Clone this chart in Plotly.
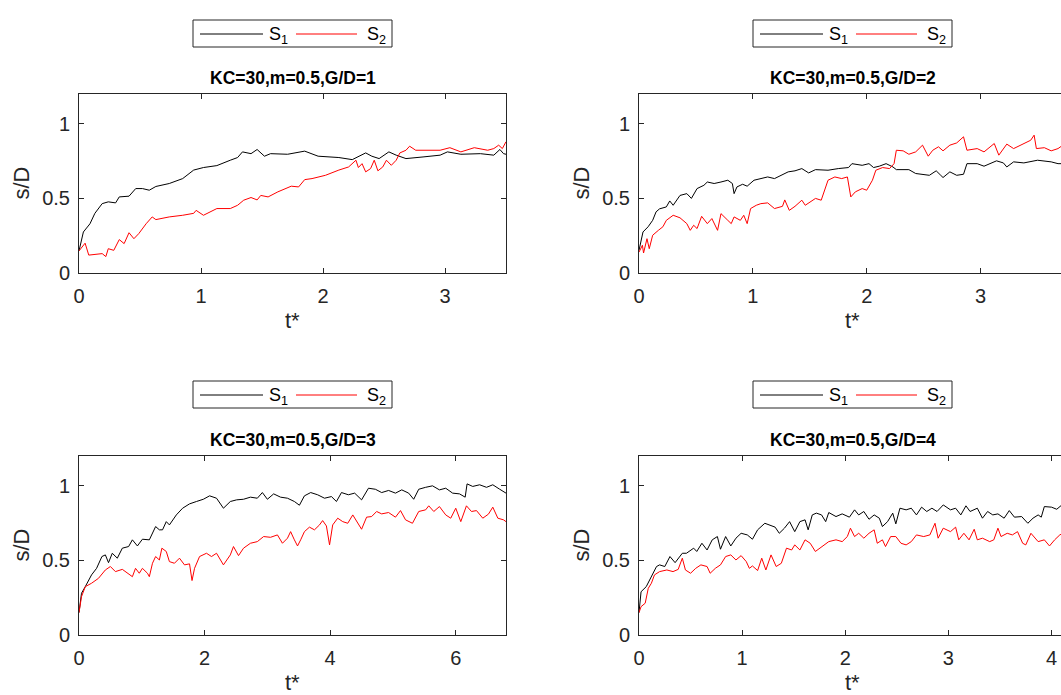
import plotly.graph_objects as go

W, H = 1061, 695

# ---------------- data ----------------
# Panel 1: KC=30, m=0.5, G/D=1
p1_t_s1 = [0, 0.036, 0.09, 0.13, 0.19, 0.24, 0.30, 0.33, 0.41, 0.465, 0.52, 0.576, 0.63, 0.74, 0.85, 0.94, 1.02, 1.13, 1.24, 1.30, 1.34, 1.41, 1.46, 1.52, 1.57, 1.71, 1.85, 1.96, 2.13, 2.24, 2.35, 2.40, 2.46, 2.54, 2.60, 2.68, 2.82, 2.96, 3.02, 3.13, 3.29, 3.40, 3.45, 3.48, 3.5]
p1_s1 = [0.148, 0.275, 0.33, 0.40, 0.465, 0.477, 0.47, 0.51, 0.515, 0.566, 0.566, 0.555, 0.58, 0.60, 0.633, 0.69, 0.707, 0.72, 0.756, 0.774, 0.812, 0.80, 0.828, 0.783, 0.80, 0.796, 0.817, 0.783, 0.774, 0.76, 0.805, 0.783, 0.767, 0.812, 0.79, 0.767, 0.778, 0.79, 0.812, 0.796, 0.80, 0.79, 0.828, 0.80, 0.796]
p1_t_s2 = [0, 0.05, 0.08, 0.13, 0.19, 0.22, 0.24, 0.285, 0.33, 0.37, 0.41, 0.45, 0.49, 0.55, 0.576, 0.60, 0.63, 0.74, 0.85, 0.94, 0.96, 1.02, 1.13, 1.24, 1.30, 1.35, 1.41, 1.46, 1.49, 1.55, 1.63, 1.74, 1.80, 1.85, 1.91, 2.02, 2.13, 2.21, 2.27, 2.29, 2.32, 2.35, 2.39, 2.42, 2.45, 2.49, 2.52, 2.56, 2.60, 2.63, 2.68, 2.71, 2.76, 2.96, 3.04, 3.13, 3.24, 3.35, 3.40, 3.44, 3.47, 3.5]
p1_s2 = [0.148, 0.20, 0.12, 0.125, 0.13, 0.11, 0.163, 0.152, 0.224, 0.197, 0.27, 0.23, 0.264, 0.33, 0.353, 0.376, 0.358, 0.376, 0.387, 0.40, 0.42, 0.387, 0.432, 0.432, 0.454, 0.488, 0.506, 0.49, 0.52, 0.51, 0.544, 0.582, 0.577, 0.626, 0.633, 0.655, 0.69, 0.711, 0.756, 0.707, 0.733, 0.678, 0.70, 0.756, 0.685, 0.711, 0.756, 0.722, 0.756, 0.805, 0.823, 0.85, 0.823, 0.823, 0.84, 0.812, 0.84, 0.823, 0.834, 0.857, 0.834, 0.88]

# Panel 2: KC=30, m=0.5, G/D=2
p2_t_s1 = [0, 0.035, 0.08, 0.12, 0.15, 0.18, 0.24, 0.27, 0.30, 0.36, 0.42, 0.46, 0.51, 0.57, 0.60, 0.66, 0.72, 0.78, 0.82, 0.835, 0.86, 0.91, 0.95, 1.01, 1.13, 1.19, 1.31, 1.37, 1.43, 1.49, 1.55, 1.66, 1.75, 1.84, 1.87, 1.96, 2.02, 2.06, 2.11, 2.17, 2.23, 2.26, 2.37, 2.43, 2.55, 2.61, 2.65, 2.67, 2.73, 2.79, 2.85, 2.88, 2.97, 3.03, 3.14, 3.20, 3.23, 3.29, 3.38, 3.50, 3.62, 3.68, 3.75]
p2_s1 = [0.152, 0.275, 0.31, 0.353, 0.41, 0.43, 0.443, 0.483, 0.454, 0.52, 0.532, 0.50, 0.566, 0.588, 0.61, 0.60, 0.61, 0.622, 0.60, 0.532, 0.577, 0.595, 0.582, 0.622, 0.644, 0.633, 0.678, 0.685, 0.70, 0.671, 0.693, 0.689, 0.70, 0.707, 0.733, 0.722, 0.733, 0.707, 0.716, 0.733, 0.711, 0.693, 0.693, 0.667, 0.655, 0.685, 0.655, 0.64, 0.678, 0.655, 0.662, 0.733, 0.733, 0.716, 0.752, 0.738, 0.711, 0.745, 0.738, 0.756, 0.745, 0.733, 0.733]
p2_t_s2 = [0, 0.03, 0.04, 0.07, 0.09, 0.12, 0.17, 0.21, 0.24, 0.30, 0.36, 0.42, 0.45, 0.48, 0.51, 0.55, 0.60, 0.64, 0.69, 0.72, 0.78, 0.81, 0.835, 0.89, 0.92, 0.95, 0.98, 1.03, 1.07, 1.13, 1.19, 1.26, 1.28, 1.32, 1.37, 1.43, 1.46, 1.55, 1.60, 1.66, 1.72, 1.78, 1.83, 1.86, 1.90, 1.96, 2.00, 2.05, 2.08, 2.14, 2.20, 2.24, 2.26, 2.32, 2.37, 2.43, 2.49, 2.54, 2.58, 2.63, 2.67, 2.73, 2.79, 2.85, 2.88, 2.97, 3.03, 3.12, 3.16, 3.23, 3.29, 3.38, 3.44, 3.47, 3.49, 3.56, 3.62, 3.68, 3.75]
p2_s2 = [0.14, 0.186, 0.134, 0.23, 0.163, 0.253, 0.286, 0.31, 0.353, 0.387, 0.37, 0.331, 0.286, 0.32, 0.298, 0.38, 0.331, 0.365, 0.286, 0.398, 0.353, 0.331, 0.376, 0.353, 0.387, 0.331, 0.432, 0.454, 0.465, 0.47, 0.432, 0.447, 0.49, 0.42, 0.447, 0.488, 0.454, 0.50, 0.488, 0.622, 0.644, 0.633, 0.644, 0.51, 0.544, 0.566, 0.555, 0.622, 0.689, 0.707, 0.70, 0.733, 0.823, 0.819, 0.796, 0.812, 0.857, 0.783, 0.823, 0.846, 0.819, 0.857, 0.872, 0.913, 0.823, 0.834, 0.812, 0.868, 0.79, 0.864, 0.834, 0.868, 0.89, 0.924, 0.834, 0.84, 0.819, 0.834, 0.872]

# Panel 3: KC=30, m=0.5, G/D=3
p3_t_s1 = [0, 0.04, 0.1, 0.15, 0.2, 0.28, 0.365, 0.42, 0.47, 0.53, 0.61, 0.69, 0.79, 0.85, 0.93, 1.01, 1.12, 1.22, 1.28, 1.33, 1.39, 1.44, 1.55, 1.65, 1.76, 1.87, 1.98, 2.08, 2.19, 2.30, 2.41, 2.51, 2.62, 2.73, 2.84, 2.92, 3.0, 3.10, 3.21, 3.32, 3.43, 3.51, 3.59, 3.69, 3.80, 3.91, 4.02, 4.10, 4.18, 4.29, 4.39, 4.50, 4.61, 4.72, 4.82, 4.93, 5.04, 5.14, 5.25, 5.33, 5.41, 5.52, 5.63, 5.74, 5.84, 5.95, 6.06, 6.15, 6.18, 6.27, 6.38, 6.49, 6.59, 6.70, 6.80]
p3_s1 = [0.15, 0.28, 0.324, 0.369, 0.403, 0.447, 0.526, 0.537, 0.485, 0.548, 0.515, 0.582, 0.593, 0.638, 0.597, 0.642, 0.638, 0.727, 0.705, 0.705, 0.76, 0.738, 0.805, 0.85, 0.879, 0.895, 0.91, 0.933, 0.917, 0.85, 0.895, 0.906, 0.91, 0.924, 0.917, 0.955, 0.91, 0.946, 0.924, 0.917, 0.895, 0.87, 0.933, 0.955, 0.94, 0.917, 0.928, 0.895, 0.955, 0.94, 0.951, 0.906, 0.984, 0.977, 0.955, 0.969, 0.951, 0.973, 0.951, 0.91, 0.977, 0.99, 1.0, 0.973, 0.984, 0.951, 0.946, 0.924, 1.013, 0.996, 1.007, 0.99, 1.007, 0.977, 0.951]
p3_t_s2 = [0, 0.04, 0.1, 0.2, 0.31, 0.42, 0.50, 0.58, 0.69, 0.79, 0.85, 0.90, 0.96, 1.01, 1.09, 1.12, 1.17, 1.22, 1.28, 1.32, 1.39, 1.44, 1.52, 1.60, 1.68, 1.76, 1.80, 1.84, 1.92, 2.03, 2.11, 2.19, 2.30, 2.41, 2.46, 2.54, 2.62, 2.73, 2.84, 2.94, 3.05, 3.16, 3.24, 3.32, 3.37, 3.43, 3.48, 3.53, 3.59, 3.67, 3.75, 3.83, 3.88, 3.94, 3.99, 4.04, 4.12, 4.20, 4.28, 4.36, 4.45, 4.50, 4.58, 4.66, 4.74, 4.82, 4.93, 5.04, 5.12, 5.20, 5.31, 5.41, 5.52, 5.57, 5.65, 5.74, 5.84, 5.92, 6.0, 6.08, 6.17, 6.25, 6.33, 6.43, 6.52, 6.59, 6.67, 6.76, 6.80]
p3_s2 = [0.15, 0.257, 0.324, 0.347, 0.38, 0.436, 0.459, 0.425, 0.44, 0.409, 0.391, 0.447, 0.414, 0.447, 0.414, 0.391, 0.481, 0.526, 0.503, 0.582, 0.56, 0.492, 0.481, 0.515, 0.47, 0.477, 0.365, 0.447, 0.526, 0.548, 0.526, 0.548, 0.47, 0.537, 0.593, 0.532, 0.582, 0.615, 0.626, 0.66, 0.655, 0.671, 0.615, 0.649, 0.693, 0.638, 0.597, 0.638, 0.693, 0.723, 0.705, 0.738, 0.767, 0.731, 0.604, 0.738, 0.783, 0.76, 0.749, 0.805, 0.749, 0.709, 0.79, 0.794, 0.828, 0.812, 0.821, 0.79, 0.834, 0.772, 0.749, 0.828, 0.839, 0.866, 0.828, 0.861, 0.805, 0.783, 0.85, 0.76, 0.866, 0.828, 0.834, 0.783, 0.81, 0.857, 0.783, 0.772, 0.76]

# Panel 4: KC=30, m=0.5, G/D=4
p4_t_s1 = [0, 0.02, 0.07, 0.12, 0.17, 0.20, 0.25, 0.30, 0.35, 0.42, 0.46, 0.53, 0.56, 0.61, 0.66, 0.71, 0.76, 0.79, 0.84, 0.89, 0.94, 0.99, 1.05, 1.10, 1.15, 1.22, 1.27, 1.32, 1.36, 1.41, 1.46, 1.51, 1.56, 1.61, 1.64, 1.68, 1.72, 1.77, 1.81, 1.84, 1.91, 1.97, 2.04, 2.09, 2.13, 2.18, 2.23, 2.28, 2.33, 2.36, 2.41, 2.46, 2.49, 2.53, 2.59, 2.64, 2.69, 2.74, 2.79, 2.84, 2.89, 2.95, 3.02, 3.07, 3.12, 3.17, 3.21, 3.28, 3.33, 3.38, 3.43, 3.48, 3.54, 3.59, 3.64, 3.71, 3.77, 3.82, 3.87, 3.90, 3.93, 4.0, 4.05, 4.10, 4.14]
p4_s1 = [0.15, 0.29, 0.324, 0.39, 0.459, 0.47, 0.459, 0.526, 0.485, 0.548, 0.548, 0.582, 0.56, 0.615, 0.57, 0.638, 0.66, 0.575, 0.66, 0.597, 0.649, 0.682, 0.671, 0.642, 0.705, 0.749, 0.738, 0.723, 0.682, 0.716, 0.76, 0.693, 0.76, 0.772, 0.705, 0.805, 0.817, 0.805, 0.76, 0.821, 0.794, 0.812, 0.79, 0.839, 0.805, 0.828, 0.776, 0.805, 0.783, 0.727, 0.76, 0.817, 0.745, 0.85, 0.839, 0.85, 0.805, 0.857, 0.828, 0.85, 0.828, 0.872, 0.839, 0.85, 0.805, 0.866, 0.828, 0.85, 0.783, 0.828, 0.805, 0.812, 0.783, 0.834, 0.79, 0.794, 0.749, 0.783, 0.805, 0.79, 0.861, 0.857, 0.843, 0.872, 0.839]
p4_t_s2 = [0, 0.02, 0.06, 0.09, 0.12, 0.15, 0.20, 0.27, 0.33, 0.38, 0.42, 0.45, 0.50, 0.55, 0.60, 0.66, 0.69, 0.74, 0.79, 0.84, 0.89, 0.94, 0.99, 1.04, 1.07, 1.10, 1.15, 1.19, 1.23, 1.28, 1.33, 1.38, 1.43, 1.48, 1.51, 1.56, 1.61, 1.66, 1.71, 1.77, 1.84, 1.91, 1.97, 2.02, 2.05, 2.09, 2.13, 2.18, 2.23, 2.28, 2.31, 2.36, 2.39, 2.44, 2.49, 2.54, 2.59, 2.64, 2.69, 2.76, 2.82, 2.87, 2.90, 2.95, 3.02, 3.07, 3.10, 3.15, 3.20, 3.25, 3.28, 3.33, 3.40, 3.44, 3.48, 3.51, 3.57, 3.62, 3.67, 3.72, 3.75, 3.80, 3.87, 3.93, 3.98, 4.03, 4.08, 4.14]
p4_s2 = [0.15, 0.19, 0.213, 0.313, 0.347, 0.403, 0.425, 0.436, 0.425, 0.44, 0.515, 0.436, 0.414, 0.447, 0.47, 0.459, 0.414, 0.447, 0.47, 0.526, 0.537, 0.503, 0.532, 0.492, 0.447, 0.463, 0.432, 0.515, 0.436, 0.537, 0.459, 0.481, 0.582, 0.57, 0.604, 0.57, 0.638, 0.615, 0.56, 0.593, 0.626, 0.638, 0.626, 0.66, 0.716, 0.66, 0.682, 0.649, 0.682, 0.705, 0.615, 0.638, 0.593, 0.66, 0.66, 0.615, 0.604, 0.626, 0.671, 0.66, 0.671, 0.749, 0.649, 0.716, 0.693, 0.723, 0.638, 0.682, 0.638, 0.709, 0.638, 0.649, 0.626, 0.638, 0.716, 0.66, 0.682, 0.671, 0.693, 0.615, 0.604, 0.682, 0.626, 0.638, 0.597, 0.638, 0.671, 0.693]

titles = ["KC=30,m=0.5,G/D=1", "KC=30,m=0.5,G/D=2", "KC=30,m=0.5,G/D=3", "KC=30,m=0.5,G/D=4"]
series_names = ["S<sub>1</sub>", "S<sub>2</sub>"]
series_colors = ["rgb(0,0,0)", "rgb(255,0,0)"]
x_label = "t*"
y_label = "s/D"
x_ranges = [[0, 3.5], [0, 3.75], [0, 6.8], [0, 4.14]]
x_ticks = [[0, 1, 2, 3], [0, 1, 2, 3], [0, 2, 4, 6], [0, 1, 2, 3, 4]]
y_ticks = [0, 0.5, 1]
y_ticktext = ["0", "0.5", "1"]
y_range = [0, 1.2]

panels = [
    (p1_t_s1, p1_s1, p1_t_s2, p1_s2),
    (p2_t_s1, p2_s1, p2_t_s2, p2_s2),
    (p3_t_s1, p3_s1, p3_t_s2, p3_s2),
    (p4_t_s1, p4_s1, p4_t_s2, p4_s2),
]

# ---------------- layout geometry (pixels) ----------------
FONT = "Liberation Sans, Arial, Helvetica, sans-serif"
AX = "#262626"
# (left, right, top, bottom) of each plot box in pixels; right panels run past the page edge
boxes = [(79, 506, 94, 273), (639, 1066, 94, 273), (79, 506, 456, 635), (639, 1066, 456, 635)]
# legend box (left, top, right, bottom) per panel
legend_boxes = [(193, 20, 392, 47), (753, 20, 952, 47), (193, 381, 392, 408), (753, 381, 952, 408)]


def px(x):
    return x / W


def py(y):
    return 1 - y / H


fig = go.Figure()
annotations = []
shapes = []
for i, (ta, a, tb, b) in enumerate(panels):
    k = "" if i == 0 else str(i + 1)
    fig.add_trace(go.Scatter(x=ta, y=a, mode="lines", name=series_names[0],
                             line=dict(color=series_colors[0], width=1),
                             xaxis="x" + k, yaxis="y" + k, showlegend=False))
    fig.add_trace(go.Scatter(x=tb, y=b, mode="lines", name=series_names[1],
                             line=dict(color=series_colors[1], width=1),
                             xaxis="x" + k, yaxis="y" + k, showlegend=False))
    l, r, t, bt = boxes[i]
    right_cut = r > W
    xr = list(x_ranges[i])
    if right_cut:
        # keep the pixel scale of the full box even though the page clips it
        xr = [0, xr[1] * (W - l) / (r - l)]
    xa = dict(domain=[px(l), min(px(r), 1.0)], range=xr, tickvals=x_ticks[i],
              ticks="inside", ticklen=5, tickcolor=AX, mirror="ticks", showline=True,
              linecolor=AX, linewidth=1, showgrid=False, zeroline=False,
              anchor="y" + k, tickfont=dict(size=20, color=AX, family=FONT),
              ticklabelstandoff=5, automargin=False)
    ya = dict(domain=[py(bt), py(t)], range=y_range, tickvals=y_ticks, ticktext=y_ticktext,
              ticks="inside", ticklen=5, tickcolor=AX, mirror=(False if right_cut else "ticks"),
              showline=True, linecolor=AX, linewidth=1, showgrid=False, zeroline=False,
              anchor="x" + k, tickfont=dict(size=20, color=AX, family=FONT),
              ticklabelstandoff=4, automargin=False)
    fig.update_layout(**{"xaxis" + k: xa, "yaxis" + k: ya})

    cx = (l + r) / 2
    # title
    annotations.append(dict(text="<b>" + titles[i] + "</b>", x=px(cx), y=py(t - 16),
                            xref="paper", yref="paper", xanchor="center", yanchor="middle",
                            showarrow=False, font=dict(size=17.5, color="#000000", family=FONT)))
    # axis labels
    annotations.append(dict(text=x_label, x=px(cx), y=py(bt + 47), xref="paper", yref="paper",
                            xanchor="center", yanchor="middle", showarrow=False,
                            font=dict(size=22, color=AX, family=FONT)))
    annotations.append(dict(text=y_label, x=px(l - 58), y=py((t + bt) / 2), xref="paper", yref="paper",
                            xanchor="center", yanchor="middle", showarrow=False, textangle=-90,
                            font=dict(size=22, color=AX, family=FONT)))
    # legend box with its two sample lines and labels
    lb_l, lb_t, lb_r, lb_b = legend_boxes[i]
    ymid = (lb_t + lb_b) / 2 + 0.5
    shapes.append(dict(type="rect", xref="paper", yref="paper", x0=px(lb_l), x1=px(lb_r),
                       y0=py(lb_b), y1=py(lb_t), line=dict(color=AX, width=1), fillcolor="white",
                       layer="above"))
    for j, (s0, s1, tx) in enumerate([(7, 70, 74), (103, 164, 172)]):
        shapes.append(dict(type="line", xref="paper", yref="paper", x0=px(lb_l + s0), x1=px(lb_l + s1),
                           y0=py(ymid), y1=py(ymid), line=dict(color=series_colors[j], width=1),
                           layer="above"))
        annotations.append(dict(text=series_names[j], x=px(lb_l + tx), y=py(ymid + 1), xref="paper",
                                yref="paper", xanchor="left", yanchor="middle", showarrow=False,
                                font=dict(size=18, color="#000000", family=FONT)))

fig.update_layout(width=W, height=H, margin=dict(l=0, r=0, t=0, b=0),
                  paper_bgcolor="white", plot_bgcolor="white",
                  annotations=annotations, shapes=shapes, showlegend=False)

fig.write_html("out.html")
